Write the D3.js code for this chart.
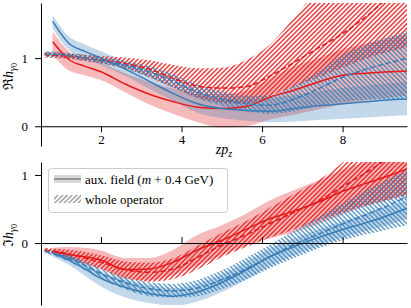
<!DOCTYPE html>
<html>
<head>
<meta charset="utf-8">
<script src="https://cdn.jsdelivr.net/npm/d3@7.9.0/dist/d3.min.js"></script>
<style>
  html, body { margin: 0; padding: 0; background: #fff; }
  svg { display: block; font-family: "Liberation Serif", "DejaVu Serif", serif; }
  .axis path, .axis line { stroke: #000; stroke-width: 1; }
  .axis text { font-size: 13px; fill: #000; font-family: "Liberation Serif", "DejaVu Serif", serif; }
</style>
</head>
<body>
<svg id="chart" width="411" height="308"></svg>
<script>
// zp_z grid for the two data sets
const zAux   = [0.8, 1.2, 1.6, 2.0, 2.6, 3.2, 3.8, 4.4, 5.0, 5.6, 6.2, 6.8, 7.4, 8.0, 8.6, 9.2, 9.6];
const zWhole = [0.6, 1.2, 1.6, 2.0, 2.6, 3.2, 3.8, 4.4, 5.0, 5.6, 6.2, 6.8, 7.4, 8.0, 8.6, 9.2, 9.6];

// real part (top)
const reAuxRed      = [1.24, 0.98, 0.88, 0.80, 0.62, 0.47, 0.36, 0.28, 0.26, 0.29, 0.43, 0.53, 0.65, 0.75, 0.78, 0.80, 0.81];
const reAuxRedLo    = [1.05, 0.82, 0.75, 0.68, 0.50, 0.32, 0.18, 0.06, -0.02, 0.00, 0.10, 0.17, 0.25, 0.32, 0.38, 0.42, 0.45];
const reAuxRedHi    = [1.39, 1.10, 0.98, 0.92, 0.78, 0.65, 0.55, 0.47, 0.47, 0.52, 0.70, 0.88, 1.00, 1.13, 1.22, 1.30, 1.35];
const reAuxBlue     = [1.54, 1.22, 1.10, 1.00, 0.84, 0.66, 0.48, 0.33, 0.26, 0.23, 0.22, 0.26, 0.30, 0.33, 0.36, 0.39, 0.40];
const reAuxBlueLo   = [1.44, 1.12, 1.00, 0.90, 0.74, 0.55, 0.37, 0.20, 0.12, 0.08, 0.06, 0.07, 0.09, 0.11, 0.13, 0.15, 0.16];
const reAuxBlueHi   = [1.63, 1.32, 1.20, 1.10, 0.94, 0.77, 0.60, 0.47, 0.41, 0.39, 0.41, 0.46, 0.51, 0.56, 0.60, 0.63, 0.65];
const reWholeRed    = [1.05, 1.03, 1.00, 0.97, 0.92, 0.84, 0.70, 0.59, 0.56, 0.58, 0.74, 0.94, 1.15, 1.36, 1.62, 1.92, 2.10];
const reWholeRedLo  = [1.01, 0.99, 0.96, 0.92, 0.85, 0.72, 0.56, 0.42, 0.35, 0.33, 0.45, 0.58, 0.72, 0.86, 1.00, 1.10, 1.16];
const reWholeRedHi  = [1.09, 1.07, 1.05, 1.03, 1.01, 0.97, 0.90, 0.85, 0.86, 0.97, 1.20, 1.60, 2.00, 2.30, 2.60, 2.90, 3.10];
const reWholeBlue   = [1.06, 1.04, 1.00, 0.96, 0.90, 0.80, 0.66, 0.50, 0.40, 0.33, 0.31, 0.40, 0.55, 0.72, 0.84, 0.94, 1.00];
const reWholeBlueLo = [1.02, 1.00, 0.96, 0.92, 0.84, 0.72, 0.57, 0.41, 0.30, 0.22, 0.18, 0.22, 0.30, 0.36, 0.39, 0.40, 0.40];
const reWholeBlueHi = [1.10, 1.08, 1.05, 1.01, 0.96, 0.88, 0.76, 0.61, 0.51, 0.45, 0.46, 0.60, 0.80, 1.05, 1.20, 1.32, 1.40];

// imaginary part (bottom)
const imAuxRed      = [-0.12, -0.17, -0.20, -0.25, -0.39, -0.38, -0.28, -0.10, 0.04, 0.20, 0.36, 0.47, 0.60, 0.76, 0.88, 1.00, 1.09];
const imAuxRedLo    = [-0.17, -0.25, -0.31, -0.38, -0.53, -0.55, -0.47, -0.33, -0.18, -0.04, 0.07, 0.16, 0.28, 0.42, 0.55, 0.65, 0.72];
const imAuxRedHi    = [-0.07, -0.06, -0.07, -0.11, -0.22, -0.22, -0.10, 0.12, 0.26, 0.43, 0.63, 0.78, 0.92, 1.08, 1.20, 1.33, 1.42];
const imAuxBlue     = [-0.15, -0.25, -0.38, -0.52, -0.65, -0.74, -0.78, -0.72, -0.58, -0.40, -0.20, -0.05, 0.08, 0.20, 0.30, 0.42, 0.51];
const imAuxBlueLo   = [-0.20, -0.32, -0.48, -0.64, -0.80, -0.88, -0.92, -0.86, -0.72, -0.54, -0.34, -0.18, -0.05, 0.08, 0.18, 0.28, 0.36];
const imAuxBlueHi   = [-0.10, -0.18, -0.30, -0.42, -0.54, -0.62, -0.66, -0.60, -0.46, -0.28, -0.08, 0.07, 0.20, 0.32, 0.43, 0.55, 0.62];
const imWholeRed    = [-0.10, -0.16, -0.22, -0.28, -0.39, -0.43, -0.38, -0.21, -0.03, 0.12, 0.29, 0.45, 0.62, 0.83, 1.04, 1.27, 1.40];
const imWholeRedLo  = [-0.13, -0.22, -0.30, -0.38, -0.51, -0.57, -0.53, -0.39, -0.21, -0.06, 0.08, 0.20, 0.33, 0.45, 0.55, 0.64, 0.70];
const imWholeRedHi  = [-0.07, -0.10, -0.13, -0.18, -0.27, -0.29, -0.22, -0.04, 0.15, 0.32, 0.52, 0.72, 0.92, 1.18, 1.45, 1.75, 1.90];
const imWholeBlue   = [-0.12, -0.22, -0.33, -0.45, -0.58, -0.67, -0.70, -0.66, -0.54, -0.38, -0.20, -0.02, 0.13, 0.28, 0.42, 0.57, 0.68];
const imWholeBlueLo = [-0.15, -0.27, -0.40, -0.53, -0.68, -0.78, -0.80, -0.78, -0.68, -0.54, -0.37, -0.22, -0.08, 0.04, 0.13, 0.21, 0.26];
const imWholeBlueHi = [-0.09, -0.17, -0.27, -0.38, -0.50, -0.58, -0.60, -0.54, -0.40, -0.22, -0.02, 0.18, 0.38, 0.58, 0.78, 0.96, 1.07];

const xTicks = [2, 4, 6, 8];
const yTicks = [0, 1];
const legendLabels = ['aux. field', 'whole operator'];

const RED = '#e41a1c';
const BLUE = '#377eb8';

const svg = d3.select('#chart');
const defs = svg.append('defs');

// hatch patterns: "/" for red, "\" for blue, "/" gray for legend
function hatch(id, color, angle, opacity) {
  const p = defs.append('pattern')
    .attr('id', id)
    .attr('patternUnits', 'userSpaceOnUse')
    .attr('width', 3.3)
    .attr('height', 10)
    .attr('patternTransform', `rotate(${angle})`);
  p.append('rect')
    .attr('x', 0).attr('y', 0)
    .attr('width', 1.6).attr('height', 10)
    .attr('fill', color)
    .attr('fill-opacity', opacity);
}
hatch('hatch-red', RED, 45, 0.8);
hatch('hatch-blue', BLUE, -45, 0.75);
hatch('hatch-gray', '#888', 45, 0.75);

const x = d3.scaleLinear().domain([0.51, 9.6]).range([41, 407]);

function panel(id, yDomain, yRange, series, opts) {
  const y = d3.scaleLinear().domain(yDomain).range(yRange);
  const top = yRange[1], bottom = yRange[0];

  defs.append('clipPath').attr('id', 'clip-' + id)
    .append('rect')
    .attr('x', 41).attr('y', top)
    .attr('width', 407 - 41).attr('height', bottom - top);

  const g = svg.append('g').attr('clip-path', `url(#clip-${id})`);

  const area = (zs) => d3.area()
    .x((d, i) => x(zs[i]))
    .y0((d) => y(d[0]))
    .y1((d) => y(d[1]))
    .curve(d3.curveMonotoneX);
  const line = (zs) => d3.line()
    .x((d, i) => x(zs[i]))
    .y((d) => y(d))
    .curve(d3.curveMonotoneX);

  const zip = (lo, hi) => lo.map((v, i) => [v, hi[i]]);

  // filled bands for aux field
  g.append('path').datum(zip(series.auxRedLo, series.auxRedHi))
    .attr('d', area(zAux)).attr('fill', RED).attr('fill-opacity', 0.3);
  g.append('path').datum(zip(series.auxBlueLo, series.auxBlueHi))
    .attr('d', area(zAux)).attr('fill', BLUE).attr('fill-opacity', 0.3);

  // hatched bands for whole operator
  g.append('path').datum(zip(series.wholeRedLo, series.wholeRedHi))
    .attr('d', area(zWhole)).attr('fill', 'url(#hatch-red)');
  g.append('path').datum(zip(series.wholeBlueLo, series.wholeBlueHi))
    .attr('d', area(zWhole)).attr('fill', 'url(#hatch-blue)');

  // central values
  g.append('path').datum(series.auxRed)
    .attr('d', line(zAux)).attr('fill', 'none').attr('stroke', RED).attr('stroke-width', 1.5);
  g.append('path').datum(series.auxBlue)
    .attr('d', line(zAux)).attr('fill', 'none').attr('stroke', BLUE).attr('stroke-width', 1.5);
  g.append('path').datum(series.wholeRed)
    .attr('d', line(zWhole)).attr('fill', 'none').attr('stroke', RED).attr('stroke-width', 1.5)
    .attr('stroke-dasharray', '5.5,2.4');
  g.append('path').datum(series.wholeBlue)
    .attr('d', line(zWhole)).attr('fill', 'none').attr('stroke', BLUE).attr('stroke-width', 1.5)
    .attr('stroke-dasharray', '5.5,2.4');

  // x axis through zero
  const xAxis = opts.labels
    ? d3.axisBottom(x).tickValues(xTicks).tickSize(6).tickSizeOuter(0).tickPadding(3)
    : d3.axisTop(x).tickValues(xTicks).tickSize(6).tickSizeOuter(0).tickFormat('');
  svg.append('g').attr('class', 'axis')
    .attr('transform', `translate(0,${y(0)})`)
    .call(xAxis);

  // left spine
  svg.append('g').attr('class', 'axis')
    .attr('transform', 'translate(41,0)')
    .call(d3.axisLeft(y).tickValues(yTicks).tickFormat(d3.format('d'))
      .tickSize(6).tickSizeOuter(0).tickPadding(7));

  // y label
  const lab = svg.append('text')
    .attr('transform', `translate(13,${(top + bottom) / 2 + 2}) rotate(-90)`)
    .attr('text-anchor', 'middle')
    .attr('font-size', 14);
  lab.append('tspan').text(opts.sym);
  lab.append('tspan').attr('font-style', 'italic').text('h');
  lab.append('tspan').attr('font-size', 10).attr('dy', 3).attr('font-style', 'italic').text('γ');
  lab.append('tspan').attr('font-size', 8).attr('dy', 1).text('0');

  return y;
}

panel('re', [-0.29, 1.81], [146, 3], {
  auxRed: reAuxRed, auxRedLo: reAuxRedLo, auxRedHi: reAuxRedHi,
  auxBlue: reAuxBlue, auxBlueLo: reAuxBlueLo, auxBlueHi: reAuxBlueHi,
  wholeRed: reWholeRed, wholeRedLo: reWholeRedLo, wholeRedHi: reWholeRedHi,
  wholeBlue: reWholeBlue, wholeBlueLo: reWholeBlueLo, wholeBlueHi: reWholeBlueHi
}, { labels: true, sym: 'ℜ' });

panel('im', [-0.91, 1.19], [305, 162], {
  auxRed: imAuxRed, auxRedLo: imAuxRedLo, auxRedHi: imAuxRedHi,
  auxBlue: imAuxBlue, auxBlueLo: imAuxBlueLo, auxBlueHi: imAuxBlueHi,
  wholeRed: imWholeRed, wholeRedLo: imWholeRedLo, wholeRedHi: imWholeRedHi,
  wholeBlue: imWholeBlue, wholeBlueLo: imWholeBlueLo, wholeBlueHi: imWholeBlueHi
}, { labels: false, sym: 'ℑ' });

// x label zp_z
const xl = svg.append('text')
  .attr('x', 224).attr('y', 154)
  .attr('text-anchor', 'middle')
  .attr('font-size', 14)
  .attr('font-style', 'italic');
xl.append('tspan').text('zp');
xl.append('tspan').attr('font-size', 10).attr('dy', 3).text('z');

// legend
const lg = svg.append('g');
lg.append('rect')
  .attr('x', 48.5).attr('y', 168.5).attr('width', 179).attr('height', 44).attr('rx', 3)
  .attr('fill', '#fff').attr('fill-opacity', 0.85)
  .attr('stroke', '#ccc').attr('stroke-width', 1);

lg.append('rect').attr('x', 54).attr('y', 175).attr('width', 27).attr('height', 8)
  .attr('fill', '#808080').attr('fill-opacity', 0.3);
lg.append('line').attr('x1', 54).attr('x2', 81).attr('y1', 179).attr('y2', 179)
  .attr('stroke', '#808080').attr('stroke-width', 1.5);
lg.append('rect').attr('x', 54).attr('y', 195).attr('width', 27).attr('height', 8)
  .attr('fill', 'url(#hatch-gray)');

const t1 = lg.append('text').attr('x', 85).attr('y', 183.5).attr('font-size', 13);
t1.append('tspan').text(legendLabels[0] + ' (');
t1.append('tspan').attr('font-style', 'italic').text('m');
t1.append('tspan').text(' + 0.4 GeV)');
lg.append('text').attr('x', 85).attr('y', 203.5).attr('font-size', 13).text(legendLabels[1]);
</script>
</body>
</html>
